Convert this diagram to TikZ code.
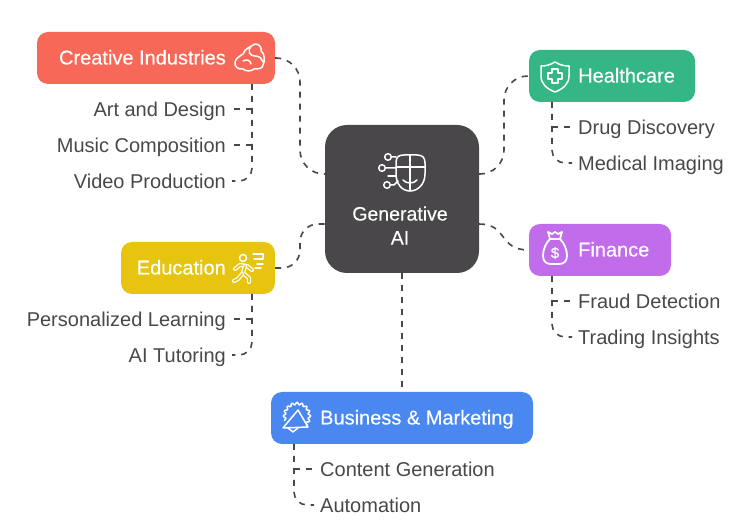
\documentclass[tikz,border=0pt]{standalone}
\usepackage{fontspec}
\setmainfont{Liberation Sans}
\newfontfamily\titlefont[FakeBold=0.35]{Liberation Sans}
\definecolor{darkgray}{RGB}{73,71,74}
\definecolor{creativered}{RGB}{247,104,88}
\definecolor{healthgreen}{RGB}{52,183,133}
\definecolor{financepurple}{RGB}{192,108,235}
\definecolor{eduyellow}{RGB}{230,196,15}
\definecolor{bizblue}{RGB}{74,135,240}
\tikzset{
  box/.style={rectangle,rounded corners=11pt,minimum height=52pt,inner sep=0pt},
  title/.style={text=white,font=\titlefont\fontsize{20}{24}\selectfont,inner sep=0pt,text height=18pt,text depth=5pt},
  item/.style={text=darkgray,font=\fontsize{20}{24}\selectfont,inner xsep=6pt,inner ysep=0pt,text height=19pt,text depth=4pt},
  link/.style={draw=darkgray,line width=1.6pt,dash pattern=on 6pt off 6pt,rounded corners=24pt},
  sublink/.style={draw=darkgray,line width=1.6pt,dash pattern=on 6pt off 6pt,rounded corners=13pt},
  icon/.style={draw=white,line width=1.5pt,line cap=round,line join=round,fill=none}
}
\begin{document}
\begin{tikzpicture}[x=1pt,y=-1pt]
  \useasboundingbox (0,0) rectangle (756,529);
  % boxes
  \node[box,fill=darkgray,minimum width=154pt,minimum height=148pt,rounded corners=22pt] (genai) at (402,199) {};
  \node[box,fill=creativered,minimum width=238pt] (creative) at (156,58) {};
  \node[box,fill=healthgreen,minimum width=166pt] (health) at (612,76) {};
  \node[box,fill=financepurple,minimum width=142pt] (finance) at (600,250) {};
  \node[box,fill=eduyellow,minimum width=154pt] (edu) at (198,268) {};
  \node[box,fill=bizblue,minimum width=262pt] (biz) at (402,418) {};
  % titles
  \node[text=white,font=\titlefont\fontsize{19.5}{24}\selectfont,inner sep=0pt,align=center] (genaitext) at (400,225.5) {Generative\\AI};
  \node[title,anchor=east] (creativetext) at (226,58) {Creative Industries};
  \node[title,anchor=west] (healthtext) at (578,76) {Healthcare};
  \node[title,anchor=west] (financetext) at (578,250) {Finance};
  \node[title,anchor=east] (edutext) at (226,268) {Education};
  \node[title,anchor=west] (biztext) at (320,418) {Business \& Marketing};
  % items
  \node[item,anchor=east] (art) at (232,109) {Art and Design};
  \node[item,anchor=east] (music) at (232,145) {Music Composition};
  \node[item,anchor=east] (video) at (232,181) {Video Production};
  \node[item,anchor=east] (learning) at (232,319) {Personalized Learning};
  \node[item,anchor=east] (tutoring) at (232,355) {AI Tutoring};
  \node[item,anchor=west] (drug) at (572,127) {Drug Discovery};
  \node[item,anchor=west] (imaging) at (572,163) {Medical Imaging};
  \node[item,anchor=west] (fraud) at (572,301) {Fraud Detection};
  \node[item,anchor=west] (trading) at (572,337) {Trading Insights};
  \node[item,anchor=west] (content) at (314,469) {Content Generation};
  \node[item,anchor=west] (automation) at (314,505) {Automation};
  % free ends
  \coordinate (genaiul) at (325,174);
  \coordinate (genaill) at (325,224);
  \coordinate (genaiur) at (479,174);
  \coordinate (genailr) at (479,224);
  \coordinate (creativefoot) at (252,84);
  \coordinate (edufoot) at (252,294);
  \coordinate (healthfoot) at (552,102);
  \coordinate (financefoot) at (552,276);
  \coordinate (bizfoot) at (294,444);
  % links
  \draw[link] (creative.east) -- (300,58) -- (300,174) -- (genaiul);
  \draw[link,rounded corners=18pt] (edu.east) -- (300,268) -- (300,224) -- (genaill);
  \draw[link] (genaiur) -- (504,174) -- (504,76) -- (health.west);
  \draw[link] (genailr) .. controls (508,224) and (498,250) .. (finance.west);
  \draw[link] (genai.south) -- (biz.north);
  % sublinks
  \draw[sublink] (creativefoot) |- (video.east);
  \draw[sublink] (creativefoot |- art.east) -- (art.east);
  \draw[sublink] (creativefoot |- music.east) -- (music.east);
  \draw[sublink] (edufoot) |- (tutoring.east);
  \draw[sublink] (edufoot |- learning.east) -- (learning.east);
  \draw[sublink] (healthfoot) |- (imaging.west);
  \draw[sublink] (healthfoot |- drug.west) -- (drug.west);
  \draw[sublink] (financefoot) |- (trading.west);
  \draw[sublink] (financefoot |- fraud.west) -- (fraud.west);
  \draw[sublink] (bizfoot) |- (automation.west);
  \draw[sublink] (bizfoot |- content.west) -- (content.west);
  % generative ai icon
  \draw[icon] (396,162) .. controls (396,156) and (400,155) .. (404,155) -- (417,155) .. controls (423,155) and (425,158) .. (425,163) -- (425,174) .. controls (425,184) and (418,191) .. (410,191) .. controls (402,191) and (396,184) .. (396,174) -- cycle;
  \draw[icon] (410,155) -- (410,191) (396,167) -- (425,167);
  \draw[icon] (403,180) .. controls (406,184) and (414,184) .. (417,180);
  \foreach \cy/\cx in {157/388,168/382,185/387}
    \draw[icon] (\cx,\cy) circle (3.3pt);
  \draw[icon] (391.5,157) -- (396,157) (385.5,168) -- (396,168) (390.5,185) -- (394,185) -- (398,181);
  \draw[icon] (388,176) -- (396,176);
  % brain icon
  \draw[icon] (248,48) -- (255,44) .. controls (259,44) and (262,47) .. (261,51) .. controls (265,53) and (265,62) .. (263,65) .. controls (263,69) and (257,69) .. (254,69) .. controls (251,72) and (245,71) .. (243,69) .. controls (238,70) and (234,66) .. (235,62) .. controls (236,58) and (240,56) .. (243,54) .. controls (244,51) and (246,49) .. (248,48);
  \draw[icon] (251,46) .. controls (247,52) and (250,56) .. (255,56) .. controls (260,56) and (262,59) .. (263,62);
  \draw[icon] (243,61) .. controls (247,59) and (250,60) .. (251,64);
  % shield icon
  \draw[icon] (555,62) .. controls (560,65) and (564,66) .. (569,66) -- (569,76) .. controls (569,84) and (563,89) .. (555,92) .. controls (547,89) and (541,84) .. (541,76) -- (541,66) .. controls (546,66) and (550,65) .. (555,62) -- cycle;
  \draw[icon] (552,69) -- (558,69) -- (558,73) -- (562,73) -- (562,79) -- (558,79) -- (558,83) -- (552,83) -- (552,79) -- (548,79) -- (548,73) -- (552,73) -- cycle;
  % money bag icon
  \draw[icon,line width=1.8pt] (550,239) -- (548,232) -- (552,234) -- (555,232) -- (558,234) -- (562,232) -- (560,239) -- cycle;
  \draw[icon,line width=1.8pt] (550,239) .. controls (546,243) and (543,249) .. (543,256) .. controls (543,262) and (547,264) .. (551,264) -- (559,264) .. controls (563,264) and (567,262) .. (567,256) .. controls (567,249) and (564,243) .. (560,239);
  \node[text=white,inner sep=0pt,font=\titlefont\fontsize{15}{15}\selectfont] (dollar) at (555,253) {\$};
  % runner icon
  \tikzset{limb/.style={draw=white,line width=1.3pt,double=eduyellow,double distance=1.6pt,line cap=round,line join=round}}
  \draw[icon] (243,258) circle (3.5pt);
  \draw[limb] (235,269) -- (240,265) -- (247,266) -- (252,270);
  \draw[limb] (245,266) -- (243,273) -- (249,278) -- (249,282);
  \draw[limb] (242,274) -- (238,279) -- (234,281);
  \draw[icon] (253,254) -- (263,254) -- (263,259) -- (254,259) (257,264) -- (263,264) (255,268) -- (261,268);
  % megaphone icon
  \draw[icon,smooth] plot[domain=-200:45,samples=65] ({297+(12.5+1.2*cos(16*\x))*cos(\x)},{416+(12.5+1.2*cos(16*\x))*sin(\x)});
  \draw[icon] (283,428) -- (298,410) -- (308,427) -- cycle;
  \draw[icon] (288,428) -- (293,432) -- (298,428);
\end{tikzpicture}
\end{document}
